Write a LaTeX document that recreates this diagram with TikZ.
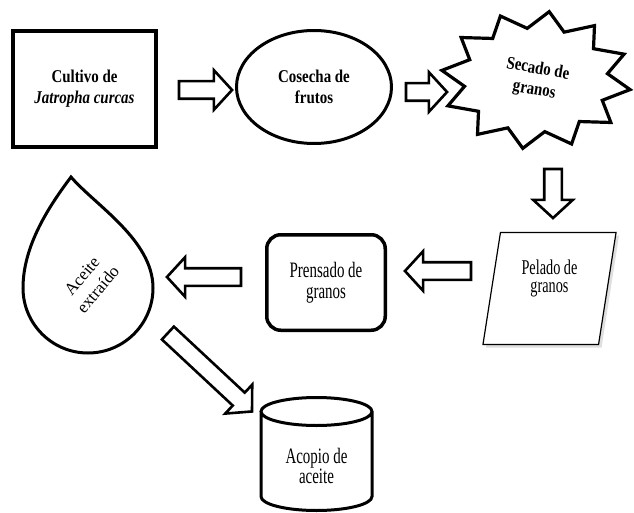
\documentclass[tikz,border=0pt]{standalone}
\usepackage{fontspec}
\setmainfont{Liberation Serif}
\newfontfamily\narrowserif{Liberation Serif}[FakeStretch=0.68]
\newfontfamily\boldserif{Liberation Serif}[FakeStretch=0.83]
\usetikzlibrary{shapes.geometric,shapes.arrows,shadows,calc}
\tikzset{
	box/.style={draw,line width=3.5pt,align=center,inner sep=0pt},
	btext/.style={font=\boldserif\bfseries\fontsize{18}{21}\selectfont,align=center},
	ntext/.style={font=\narrowserif\fontsize{22}{21.5}\selectfont,align=center},
	barrow/.style={single arrow,draw,line width=2.6pt,fill=white,inner xsep=0pt,inner ysep=7.5pt,
		minimum width=37pt,single arrow head extend=11pt,single arrow tip angle=95}}

\begin{document}
\begin{tikzpicture}[x=1pt,y=1pt]
		\useasboundingbox (0,0) rectangle (634,-513);
		% first row
		\node (cultivo) at (84.5,-89) [box,rectangle,minimum width=143pt,minimum height=116pt,btext] {Cultivo de\\\textit{Jatropha curcas}};
		\node (cosecha) at (314,-87) [box,ellipse,line width=3pt,minimum width=155pt,minimum height=113pt,btext] {Cosecha de\\frutos};
		\node (secado) at (536,-80) [btext,rotate=-10] {Secado de\\granos};
		\draw [line width=3.2pt,line join=miter] ($(secado)+(22:95 and 69)$)
			\foreach \a in {52,82,...,352} { -- ($(secado)+(\a-15:72 and 52)$) -- ($(secado)+(\a:95 and 69)$) }
			-- ($(secado)+(7:72 and 52)$) -- cycle;
		% second row
		\node (pelado) at (549.5,-288.5) [draw,trapezium,trapezium left angle=80,trapezium right angle=100,trapezium stretches=true,
			minimum width=134pt,minimum height=112pt,line width=1.2pt,fill=white,inner sep=0pt,
			drop shadow={shadow xshift=3pt,shadow yshift=-3pt,opacity=0.25},
			ntext,font=\narrowserif\fontsize{21}{18}\selectfont] {Pelado de\\granos\\[6pt]};
		\node (prensado) at (326,-282.5) [box,rounded corners=14pt,minimum width=118.5pt,minimum height=95.5pt,ntext] {Prensado de\\granos};
		\coordinate (gota) at (71,-177);
		\draw [line width=3pt] (gota) .. controls (95,-205) and (153,-240) .. (153,-288)
			arc [start angle=0,end angle=-180,radius=65] .. controls (23,-245) and (50,-205) .. (gota) -- cycle;
		\node (aceite) at (90,-283) [rotate=50,align=center,font=\fontsize{17}{21}\selectfont] {Aceite\\extra\'ido};
		% third row
		\node (acopio) at (316.5,-466) [ntext,font=\narrowserif\fontsize{22}{19}\selectfont] {Acopio de\\aceite};
		\draw [line width=3pt] (261,-411.5) -- (261,-496.5) arc [start angle=180,end angle=360,x radius=55.5,y radius=14]
			-- (372,-411.5) arc [start angle=0,end angle=360,x radius=55.5,y radius=14];
		% block arrows
		\node (f1) at (201.5,-90) [barrow,minimum height=53pt] {};
		\node (f2) at (422.5,-92) [barrow,minimum height=41pt] {};
		\node (f3) at (553,-189.5) [barrow,minimum height=49pt,rotate=-90] {};
		\node (f4) at (442,-271) [barrow,minimum height=66pt,rotate=180] {};
		\node (f5) at (208,-277) [barrow,minimum height=74pt,rotate=180] {};
		\node (f6) at (207,-369.5) [barrow,minimum height=115pt,rotate=-43] {};
\end{tikzpicture}
\end{document}
